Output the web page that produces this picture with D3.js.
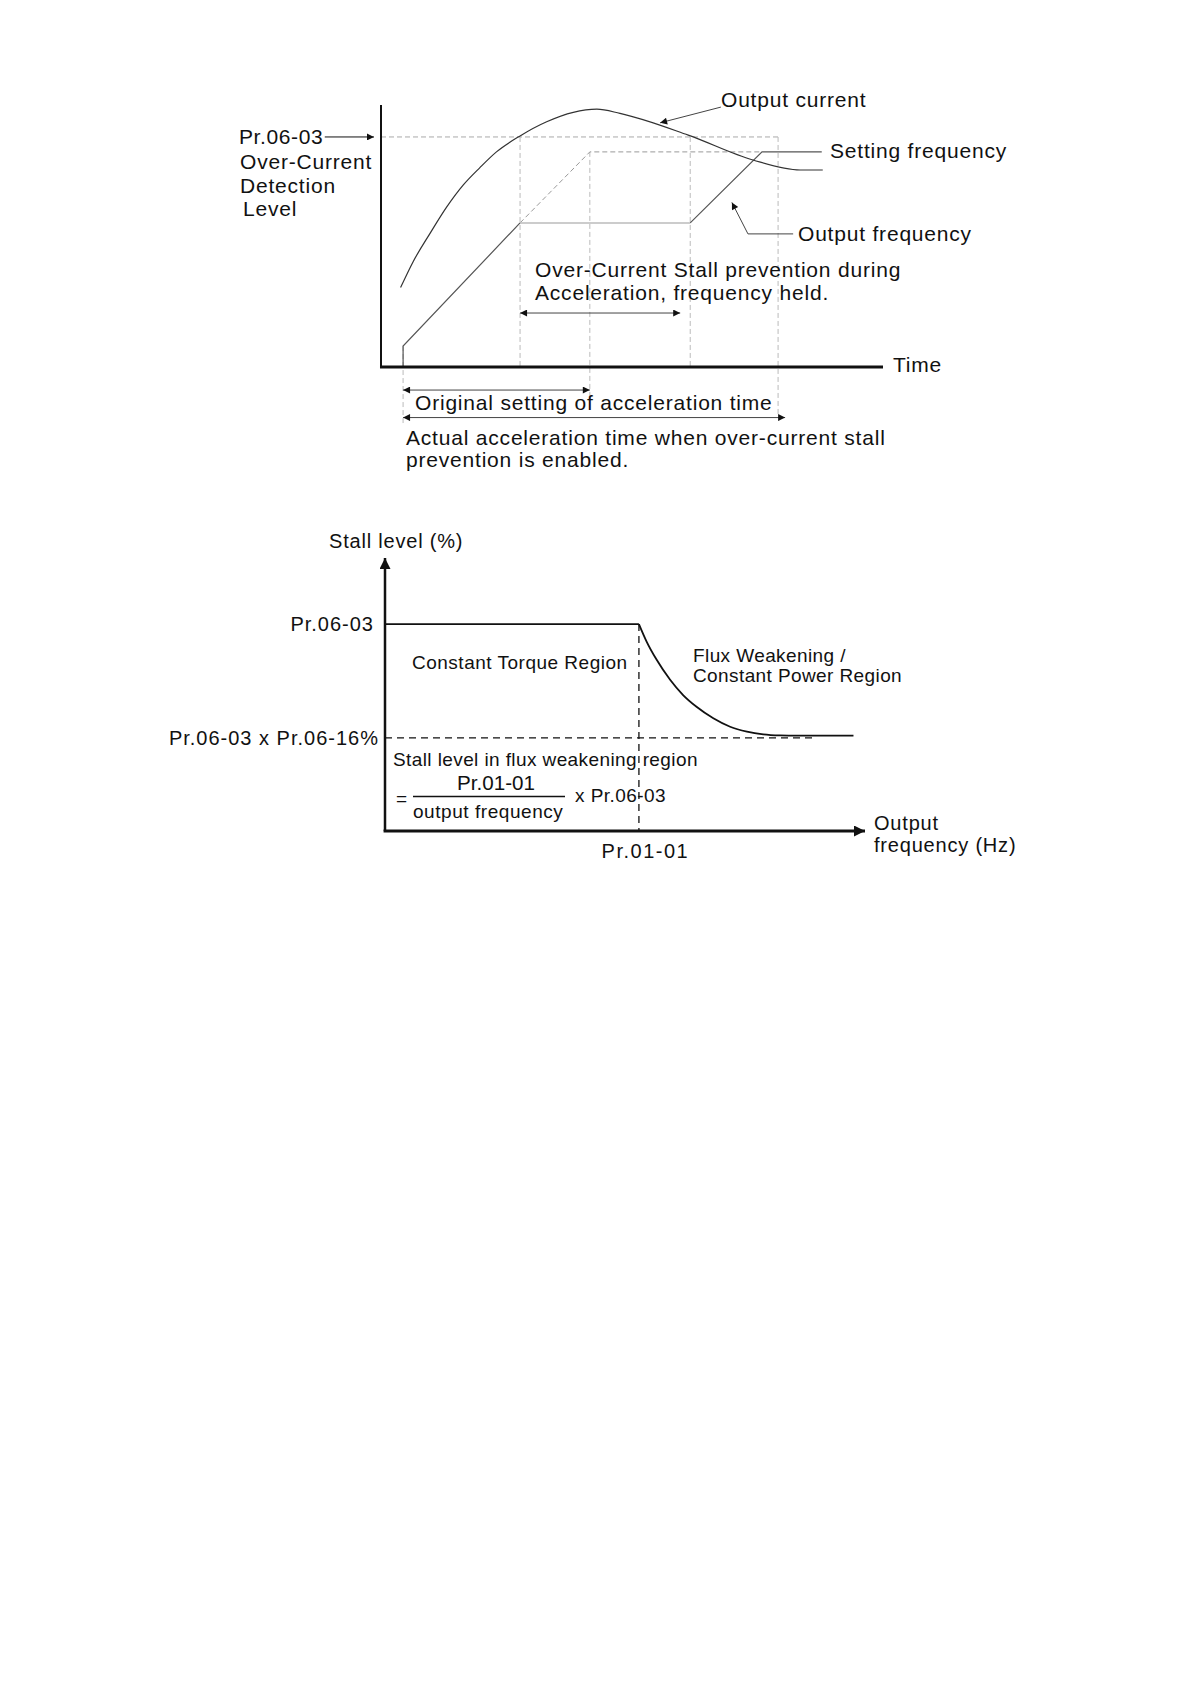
<!DOCTYPE html>
<html>
<head>
<meta charset="utf-8">
<script src="https://cdn.jsdelivr.net/npm/d3@7"></script>
<style>
body{margin:0;background:#fff;}
svg text{font-family:"Liberation Sans",Arial,sans-serif;fill:#111;}
</style>
</head>
<body>
<script>
// ---- top chart: over-current stall during acceleration (time 0-100, level 0-100)
const currentT = [3.9, 6.4, 9.8, 13.1, 16.4, 19.7, 23.0, 27.7, 33.0, 38.3, 43.0, 47.6, 61.2, 74.1, 83.5, 88.0];
const currentV = [30.3, 40.2, 51.1, 61.1, 69.5, 76.1, 82.1, 88.2, 93.6, 97.2, 98.4, 96.8, 88.5, 79.0, 75.2, 75.2];
const outFreqT = [4.4, 4.4, 27.7];          // rising part
const outFreqV = [0, 8.0, 55.0];
const heldT = [27.7, 61.6];                  // frequency held
const heldV = [55.0, 55.0];
const resumeT = [61.6, 75.9, 87.8];          // rising again to setting
const resumeV = [55.0, 82.1, 82.1];
const setFreqT = [27.7, 41.6, 75.9];
const setFreqV = [55.0, 82.1, 82.1];
const detectLevel = 87.8;
const detectEnd = 79.1;
const guideT = [4.4, 27.7, 41.6, 61.6, 79.1];
const guideTop = [8.0, 87.8, 82.1, 87.8, 87.8];
const guideBottom = [-22, 0, -11, 0, -19];

// ---- bottom chart: stall level vs output frequency (0-100 / 0-100)
const levelLabels = ['Pr.06-03', 'Pr.06-03 x Pr.06-16%'];
const levelValues = [75.8, 34.1];
const baseFreq = 52.9;               // Pr.01-01
const freqLabel = ['Pr.01-01'];
const stallF = [52.9, 54.5, 56.6, 59.4, 62.1, 64.9, 68.4, 71.9, 75.4, 78.8, 82.3, 85.8, 97.6];
const stallV = [75.8, 69.4, 62.7, 55.4, 49.8, 45.5, 41.3, 38.2, 36.4, 35.4, 35.0, 34.9, 34.9];
const lowDashEnd = 89.2;

const svg = d3.select('body').append('svg')
    .attr('width', 1191).attr('height', 1684);
svg.append('rect').attr('width', 1191).attr('height', 1684).attr('fill', '#fff');

const defs = svg.append('defs');
function addMarker(id, w, h){
    defs.append('marker').attr('id', id)
        .attr('viewBox', '0 0 10 10').attr('refX', 10).attr('refY', 5)
        .attr('markerUnits', 'userSpaceOnUse')
        .attr('markerWidth', w).attr('markerHeight', h)
        .attr('orient', 'auto-start-reverse')
        .append('path').attr('d', 'M0,0 L10,5 L0,10 z').attr('fill', '#111');
}
addMarker('arrS', 10, 7);
addMarker('arrL', 12, 11);

const zip = (a, b) => a.map((v, i) => [v, b[i]]);

function text(g, x, y, s, size, ls){
    return g.append('text').attr('x', x).attr('y', y)
        .style('font-size', size + 'px')
        .style('letter-spacing', (ls || 0) + 'px')
        .text(s);
}

function drawTop(){
    const g = svg.append('g').attr('class', 'top');
    const x = d3.scaleLinear().domain([0, 100]).range([381, 883]);
    const y = d3.scaleLinear().domain([0, 100]).range([367, 105]);
    const line = d3.line().x(d => x(d[0])).y(d => y(d[1]));
    const dash = '5,3';

    // guides
    g.append('path').attr('d', line([[0, detectLevel], [detectEnd, detectLevel]]))
        .attr('fill', 'none').attr('stroke', '#aaa').attr('stroke-dasharray', dash);
    guideT.forEach((t, i) => {
        g.append('path').attr('d', line([[t, guideTop[i]], [t, guideBottom[i]]]))
            .attr('fill', 'none').attr('stroke', '#bbb').attr('stroke-dasharray', dash);
    });
    g.append('path').attr('d', line(zip(setFreqT, setFreqV)))
        .attr('fill', 'none').attr('stroke', '#999').attr('stroke-dasharray', dash);

    // output frequency
    g.append('path').attr('d', line(zip(outFreqT, outFreqV)))
        .attr('fill', 'none').attr('stroke', '#555').attr('stroke-width', 1.2);
    g.append('path').attr('d', line(zip(heldT, heldV)))
        .attr('fill', 'none').attr('stroke', '#bbb').attr('stroke-width', 1.5);
    g.append('path').attr('d', line(zip(resumeT, resumeV)))
        .attr('fill', 'none').attr('stroke', '#555').attr('stroke-width', 1.2);

    // output current
    g.append('path').attr('d', line.curve(d3.curveMonotoneX)(zip(currentT, currentV)))
        .attr('fill', 'none').attr('stroke', '#333').attr('stroke-width', 1.2);
    line.curve(d3.curveLinear);

    // axes
    g.append('path').attr('d', line([[0, 0], [0, 100]]))
        .attr('stroke', '#111').attr('stroke-width', 2);
    g.append('path').attr('d', line([[-0.2, 0], [100, 0]]))
        .attr('stroke', '#111').attr('stroke-width', 3);

    // arrows
    const arrow = (pts, both, col) => g.append('path').attr('d', line(pts))
        .attr('fill', 'none').attr('stroke', col || '#444').attr('stroke-width', 1)
        .attr('marker-end', 'url(#arrS)')
        .attr('marker-start', both ? 'url(#arrS)' : null);
    arrow([[-11.2, detectLevel], [-1.4, detectLevel]], false, '#111');
    arrow([[27.7, 20.6], [59.6, 20.6]], true);
    arrow([[4.4, -8.8], [41.6, -8.8]], true);
    arrow([[4.4, -19.3], [80.5, -19.3]], true);
    arrow([[67.7, 99.2], [55.6, 93.2]], false);
    arrow([[82.1, 50.8], [73.1, 50.8], [69.9, 62.8]], false);

    // labels
    text(g, 239, 144, 'Pr.06-03', 21, 0.6);
    text(g, 240, 169, 'Over-Current', 21, 0.8);
    text(g, 240, 193, 'Detection', 21, 0.8);
    text(g, 243, 216, 'Level', 21, 0.8);
    text(g, 721, 107, 'Output current', 21, 0.8);
    text(g, 830, 158, 'Setting frequency', 21, 0.8);
    text(g, 798, 241, 'Output frequency', 21, 0.8);
    text(g, 535, 277, 'Over-Current Stall prevention during', 21, 0.8);
    text(g, 535, 300, 'Acceleration, frequency held.', 21, 0.8);
    text(g, 893, 372, 'Time', 21, 0.8);
    text(g, 415, 410, 'Original setting of acceleration time', 21, 0.8);
    text(g, 406, 445, 'Actual acceleration time when over-current stall', 21, 0.8);
    text(g, 406, 467, 'prevention is enabled.', 21, 0.8);
}

function drawBottom(){
    const g = svg.append('g').attr('class', 'bottom');
    const x = d3.scaleLinear().domain([0, 100]).range([385, 865]);
    const y = d3.scaleLinear().domain([0, 100]).range([831, 558]);
    const line = d3.line().x(d => x(d[0])).y(d => y(d[1]));

    // dashed guides
    g.append('path').attr('d', line([[0, levelValues[1]], [lowDashEnd, levelValues[1]]]))
        .attr('fill', 'none').attr('stroke', '#111').attr('stroke-width', 1.3)
        .attr('stroke-dasharray', '7,5');
    g.append('path').attr('d', line([[baseFreq, levelValues[0]], [baseFreq, 0]]))
        .attr('fill', 'none').attr('stroke', '#111').attr('stroke-width', 1.3)
        .attr('stroke-dasharray', '7,5');

    // stall level
    g.append('path').attr('d', line([[0, levelValues[0]], [baseFreq, levelValues[0]]]))
        .attr('fill', 'none').attr('stroke', '#111').attr('stroke-width', 1.8);
    g.append('path').attr('d', line.curve(d3.curveMonotoneX)(zip(stallF, stallV)))
        .attr('fill', 'none').attr('stroke', '#111').attr('stroke-width', 1.8);
    line.curve(d3.curveLinear);

    // axes with arrows
    g.append('path').attr('d', line([[0, 0], [0, 100]]))
        .attr('stroke', '#111').attr('stroke-width', 2.5).attr('marker-end', 'url(#arrL)');
    g.append('path').attr('d', line([[-0.3, 0], [100, 0]]))
        .attr('stroke', '#111').attr('stroke-width', 3).attr('marker-end', 'url(#arrL)');

    // tick labels
    const yAxis = d3.axisLeft(y).tickValues(levelValues)
        .tickFormat((d, i) => levelLabels[i]).tickSize(0).tickPadding(11);
    const yAx = g.append('g').attr('transform', `translate(${x(0)},0)`).call(yAxis);
    yAx.select('.domain').remove();
    yAx.selectAll('text').style('font-size', '20px').style('letter-spacing', '1px')
        .attr('fill', '#111');
    yAx.selectAll('text').filter((d, i) => i === 1).attr('x', -6);

    const xAxis = d3.axisBottom(x).tickValues([baseFreq])
        .tickFormat((d, i) => freqLabel[i]).tickSize(0).tickPadding(13);
    const xAx = g.append('g').attr('transform', `translate(0,${y(0)})`).call(xAxis);
    xAx.select('.domain').remove();
    xAx.selectAll('text').style('font-size', '20px').style('letter-spacing', '1.5px')
        .attr('fill', '#111').attr('dx', '0.3em');
    yAx.attr('font-family', null); xAx.attr('font-family', null);

    // fraction
    g.append('line').attr('x1', 413).attr('x2', 565).attr('y1', 796.5).attr('y2', 796.5)
        .attr('stroke', '#111').attr('stroke-width', 1.3);

    text(g, 329, 548, 'Stall level (%)', 20, 0.8);
    text(g, 412, 669, 'Constant Torque Region', 19, 0.5);
    text(g, 693, 662, 'Flux Weakening /', 19, 0.4);
    text(g, 693, 682, 'Constant Power Region', 19, 0.4);
    text(g, 393, 766, 'Stall level in flux weakening region', 19, 0.4);
    text(g, 396, 805, '=', 19, 0);
    text(g, 457, 790, 'Pr.01-01', 21, 0)
        .attr('textLength', 78).attr('lengthAdjust', 'spacingAndGlyphs');
    text(g, 413, 818, 'output frequency', 19, 0.55);
    text(g, 575, 802, 'x Pr.06-03', 19, 0.45);
    text(g, 874, 830, 'Output', 20, 0.8);
    text(g, 874, 852, 'frequency (Hz)', 20, 0.8);
}

drawTop();
drawBottom();
</script>
</body>
</html>
